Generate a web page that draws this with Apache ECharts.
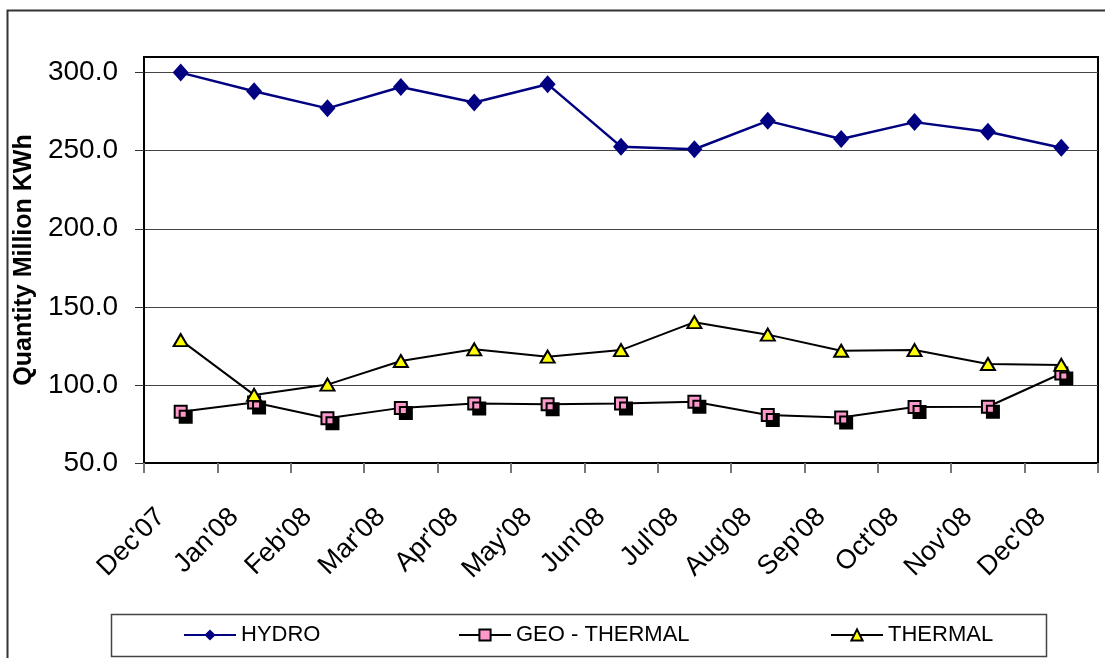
<!DOCTYPE html>
<html>
<head>
<meta charset="utf-8">
<script src="https://cdn.jsdelivr.net/npm/echarts@6/dist/echarts.min.js"></script>
<style>
  html, body { margin: 0; padding: 0; background: #fff; }
  #main { width: 1105px; height: 658px; }
</style>
</head>
<body>
<div id="main"></div>
<script>
// months on the x axis
var months = ["Dec'07", "Jan'08", "Feb'08", "Mar'08", "Apr'08", "May'08", "Jun'08",
              "Jul'08", "Aug'08", "Sep'08", "Oct'08", "Nov'08", "Dec'08"];

// Quantity, million KWh
var hydro   = [300.0, 288.1, 277.1, 290.8, 280.9, 292.6, 252.6, 250.9, 269.1, 257.5, 268.3, 262.1, 251.9];
var geo     = [82.8, 88.8, 78.7, 85.3, 88.1, 87.7, 88.1, 89.2, 80.7, 79.2, 85.8, 86.0, 107.3];
var thermal = [128.7, 93.6, 100.2, 115.3, 122.8, 118.1, 122.3, 140.2, 132.2, 121.9, 122.3, 113.4, 112.8];

var yTicks = [50, 100, 150, 200, 250, 300];

var myChart = echarts.init(document.getElementById('main'));

var FONT = 'Liberation Sans, Arial, sans-serif';

function legendAt(name, left) {
    return {
        data: [name],
        left: left,
        top: 624,
        itemWidth: 52,
        itemHeight: 14,
        itemGap: 4,
        padding: 0,
        textStyle: { fontFamily: FONT, fontSize: 22, color: '#000' },
        itemStyle: { shadowOffsetX: 0, shadowOffsetY: 0, shadowColor: 'transparent' },
        selectedMode: false
    };
}

var option = {
    animation: false,
    backgroundColor: '#fff',
    graphic: [
        {   // outer chart frame
            type: 'rect',
            shape: { x: 7.5, y: 10.5, width: 1110, height: 700 },
            style: { fill: 'none', stroke: '#333', lineWidth: 2 },
            silent: true
        },
        {   // legend frame
            type: 'rect',
            shape: { x: 111.5, y: 614.5, width: 935, height: 42 },
            style: { fill: 'none', stroke: '#444', lineWidth: 1.5 },
            silent: true
        }
    ],
    legend: [
        legendAt('HYDRO', 183),
        legendAt('GEO - THERMAL', 458),
        legendAt('THERMAL', 830)
    ],
    grid: {
        left: 144,
        top: 57,
        right: 7,
        bottom: 195,
        show: true,
        borderColor: '#000',
        borderWidth: 2,
        containLabel: false
    },
    xAxis: {
        type: 'category',
        data: months,
        boundaryGap: true,
        axisLine: { lineStyle: { color: '#000', width: 2 } },
        axisTick: { show: true, length: 10, lineStyle: { color: '#777', width: 2 } },
        axisLabel: {
            rotate: 45,
            interval: 0,
            margin: 30,
            padding: [0, 28, 0, 0],
            fontFamily: FONT,
            fontSize: 27,
            color: '#000'
        },
        splitLine: { show: false }
    },
    yAxis: {
        type: 'value',
        min: 50,
        max: 310,
        interval: 50,
        name: 'Quantity Million KWh',
        nameLocation: 'middle',
        nameGap: 98,
        nameTextStyle: { fontFamily: FONT, fontSize: 25, fontWeight: 'bold', color: '#000' },
        axisLine: { show: true, lineStyle: { color: '#000', width: 2 } },
        axisTick: { show: true, length: 9, customValues: yTicks, lineStyle: { color: '#333', width: 1 } },
        axisLabel: {
            customValues: yTicks,
            margin: 26,
            fontFamily: FONT,
            fontSize: 28,
            color: '#000',
            formatter: function (v) { return v.toFixed(1); }
        },
        splitLine: { show: true, lineStyle: { color: '#444', width: 1 } }
    },
    series: [
        {
            name: 'HYDRO',
            type: 'line',
            data: hydro,
            symbol: 'diamond',
            symbolSize: [16, 18],
            lineStyle: { color: '#000080', width: 2.5 },
            itemStyle: { color: '#000080' }
        },
        {
            name: 'GEO - THERMAL',
            type: 'line',
            data: geo,
            symbol: 'rect',
            symbolSize: 12,
            lineStyle: { color: '#000', width: 2 },
            itemStyle: {
                color: '#ff99cc',
                borderColor: '#000',
                borderWidth: 2,
                shadowColor: '#000',
                shadowBlur: 0,
                shadowOffsetX: 5,
                shadowOffsetY: 5
            }
        },
        {
            name: 'THERMAL',
            type: 'line',
            data: thermal,
            symbol: 'triangle',
            symbolSize: [14, 12],
            lineStyle: { color: '#000', width: 2 },
            itemStyle: { color: '#ffff00', borderColor: '#000', borderWidth: 2 }
        }
    ]
};

option && myChart.setOption(option);
</script>
</body>
</html>
